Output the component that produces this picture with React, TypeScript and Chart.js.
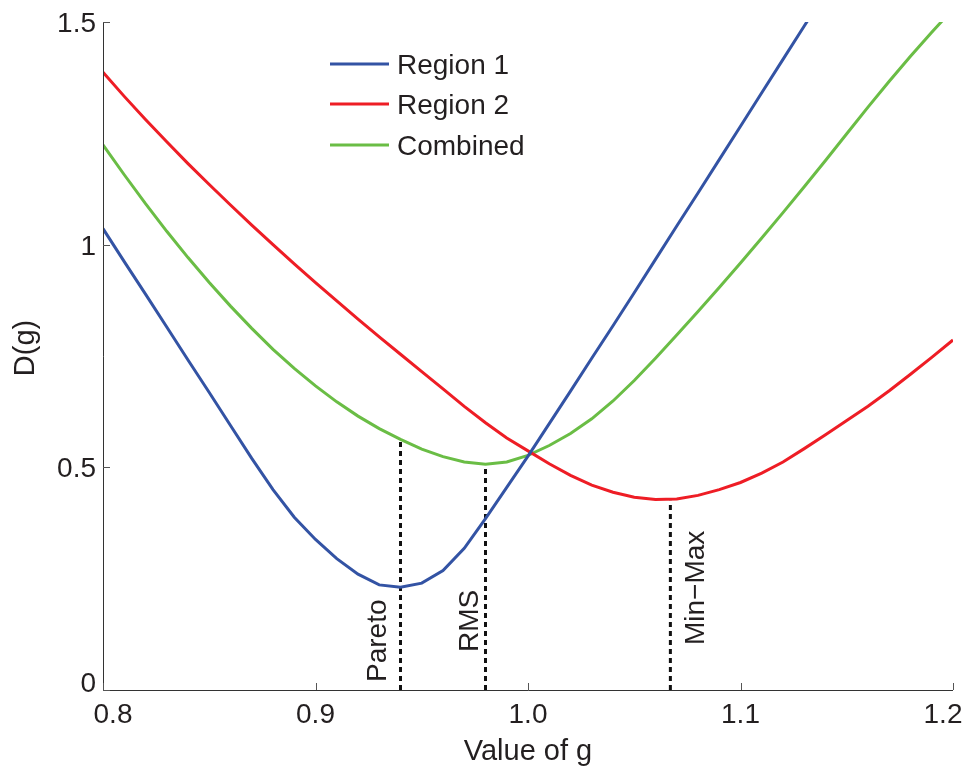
import React, { useEffect, useRef } from "react";
import { Chart, registerables } from "chart.js";

Chart.register(...registerables);

// ---- data ----
const gValues = [
  0.8, 0.81, 0.82, 0.83, 0.84, 0.85, 0.86, 0.87, 0.88, 0.89,
  0.9, 0.91, 0.92, 0.93, 0.94, 0.95, 0.96, 0.97, 0.98, 0.99,
  1.0, 1.01, 1.02, 1.03, 1.04, 1.05, 1.06, 1.07, 1.08, 1.09,
  1.1, 1.11, 1.12, 1.13, 1.14, 1.15, 1.16, 1.17, 1.18, 1.19, 1.2,
];

const region1 = [
  1.036, 0.962, 0.889, 0.815, 0.741, 0.668, 0.594, 0.52, 0.45, 0.388,
  0.338, 0.295, 0.26, 0.236, 0.231, 0.24, 0.268, 0.318, 0.385, 0.455,
  0.525, 0.598, 0.671, 0.745, 0.818, 0.892, 0.967, 1.042, 1.116, 1.191,
  1.266, 1.341, 1.416, 1.491, 1.566,
];

const region2 = [
  1.387, 1.333, 1.281, 1.231, 1.182, 1.135, 1.089, 1.044, 1.0, 0.957,
  0.915, 0.874, 0.833, 0.793, 0.754, 0.715, 0.676, 0.637, 0.6, 0.566,
  0.537, 0.508, 0.482, 0.46, 0.444, 0.433, 0.428, 0.429, 0.437, 0.45,
  0.466, 0.487, 0.512, 0.542, 0.573, 0.605, 0.637, 0.672, 0.709, 0.747, 0.786,
];

const combined = [
  1.224, 1.157, 1.092, 1.03, 0.971, 0.915, 0.862, 0.812, 0.765, 0.722,
  0.683, 0.647, 0.615, 0.587, 0.563, 0.541, 0.524, 0.512, 0.507, 0.512,
  0.527, 0.549, 0.576, 0.609, 0.649, 0.695, 0.745, 0.797, 0.85, 0.904,
  0.959, 1.015, 1.072, 1.13, 1.189, 1.249, 1.309, 1.367, 1.423, 1.477, 1.529,
];

const seriesNames = ["Region 1", "Region 2", "Combined"];
const seriesColors = ["#3353A4", "#EE1D25", "#6ABD45"];

const markerLabels = ["Pareto", "RMS", "Min\u2212Max"];
const markerG = [0.94, 0.98, 1.067];
const markerTop = [0.562, 0.505, 0.425];

const xTicks = [0.8, 0.9, 1.0, 1.1, 1.2];
const xTickLabels = ["0.8", "0.9", "1.0", "1.1", "1.2"];
const yTicks = [0, 0.5, 1, 1.5];
const yTickLabels = ["0", "0.5", "1", "1.5"];

const xTitle = "Value of g";
const yTitle = "D(g)";

const FONT = '"Liberation Sans", Arial, Helvetica, sans-serif';
const TEXT = "#231f20";

const toPoints = (vals: number[]) =>
  vals.map((v, i) => ({ x: gValues[i], y: v }));

const overlayPlugin = {
  id: "overlay",
  afterDraw(chart: any) {
    const ctx = chart.ctx as CanvasRenderingContext2D;
    const xs = chart.scales.x;
    const ys = chart.scales.y;
    const { left, right, top, bottom } = chart.chartArea;
    ctx.save();

    // axis lines
    ctx.strokeStyle = "#333";
    ctx.lineWidth = 1;
    ctx.beginPath();
    ctx.moveTo(left + 0.5, top);
    ctx.lineTo(left + 0.5, bottom + 0.5);
    ctx.lineTo(right, bottom + 0.5);
    ctx.stroke();

    // inward tick marks
    ctx.strokeStyle = "#555";
    xTicks.forEach((v) => {
      const px = Math.round(xs.getPixelForValue(v)) + 0.5;
      ctx.beginPath();
      ctx.moveTo(px, bottom);
      ctx.lineTo(px, bottom - 7);
      ctx.stroke();
    });
    yTicks.forEach((v) => {
      const py = Math.round(ys.getPixelForValue(v)) + 0.5;
      ctx.beginPath();
      ctx.moveTo(left, py);
      ctx.lineTo(left + 7, py);
      ctx.stroke();
    });

    // tick labels
    ctx.fillStyle = TEXT;
    ctx.font = `28px ${FONT}`;
    ctx.textBaseline = "alphabetic";
    ctx.textAlign = "center";
    xTicks.forEach((v, i) => {
      let px = xs.getPixelForValue(v);
      if (i === 0) px += 10;
      if (i === xTicks.length - 1) px -= 10;
      ctx.fillText(xTickLabels[i], px, bottom + 33);
    });
    ctx.textAlign = "right";
    yTicks.forEach((v, i) => {
      const py = ys.getPixelForValue(v);
      ctx.fillText(yTickLabels[i], left - 7, py + (v === 0 ? 2 : 10));
    });

    // axis titles
    ctx.font = `29px ${FONT}`;
    ctx.textAlign = "center";
    ctx.fillText(xTitle, (left + right) / 2, 760);
    ctx.save();
    ctx.translate(34, 348);
    ctx.rotate(-Math.PI / 2);
    ctx.fillText(yTitle, 0, 0);
    ctx.restore();

    // marker labels (rotated)
    ctx.font = `28px ${FONT}`;
    ctx.textAlign = "left";
    const offs = [-15, -8, 34];
    const starts = [682, 652, 645];
    markerLabels.forEach((lab, i) => {
      const px = xs.getPixelForValue(markerG[i]) + offs[i];
      ctx.save();
      ctx.translate(px, starts[i]);
      ctx.rotate(-Math.PI / 2);
      ctx.fillText(lab, 0, 0);
      ctx.restore();
    });

    // legend
    const legY = [64, 104, 145];
    seriesNames.forEach((name, i) => {
      ctx.strokeStyle = seriesColors[i];
      ctx.lineWidth = 3;
      ctx.beginPath();
      ctx.moveTo(330, legY[i]);
      ctx.lineTo(389, legY[i]);
      ctx.stroke();
      ctx.fillStyle = TEXT;
      ctx.font = `28px ${FONT}`;
      ctx.textAlign = "left";
      ctx.fillText(name, 397, legY[i] + 10);
    });

    ctx.restore();
  },
};

export default function App() {
  const canvasRef = useRef<HTMLCanvasElement | null>(null);

  useEffect(() => {
    if (!canvasRef.current) return;
    const lineSets = [region1, region2, combined].map((vals, i) => ({
      label: seriesNames[i],
      data: toPoints(vals),
      borderColor: seriesColors[i],
      backgroundColor: seriesColors[i],
      borderWidth: 3,
      pointRadius: 0,
      tension: 0,
      fill: false,
    }));
    const markerSets = markerG.map((g, i) => ({
      label: markerLabels[i],
      data: [
        { x: g, y: 0 },
        { x: g, y: markerTop[i] },
      ],
      borderColor: "#111",
      borderWidth: 3,
      borderDash: [5, 4],
      pointRadius: 0,
      tension: 0,
      fill: false,
    }));

    const chart = new Chart(canvasRef.current, {
      type: "line",
      data: { datasets: [...lineSets, ...markerSets] as any },
      options: {
        animation: false,
        responsive: true,
        maintainAspectRatio: false,
        layout: { padding: { top: 22, right: 14, left: 0, bottom: 0 } },
        plugins: {
          legend: { display: false },
          tooltip: { enabled: false },
        },
        scales: {
          x: {
            type: "linear",
            min: 0.8,
            max: 1.2,
            grid: { display: false },
            border: { display: false },
            ticks: { display: false, stepSize: 0.1 },
            afterFit: (s: any) => {
              s.height = 78;
            },
          },
          y: {
            type: "linear",
            min: 0,
            max: 1.5,
            grid: { display: false },
            border: { display: false },
            ticks: { display: false, stepSize: 0.5 },
            afterFit: (s: any) => {
              s.width = 103;
            },
          },
        },
      } as any,
      plugins: [overlayPlugin],
    });
    return () => chart.destroy();
  }, []);

  return (
    <div
      style={{
        position: "fixed",
        left: 0,
        top: 0,
        width: 967,
        height: 768,
        background: "#fff",
      }}
    >
      <canvas ref={canvasRef} />
    </div>
  );
}
